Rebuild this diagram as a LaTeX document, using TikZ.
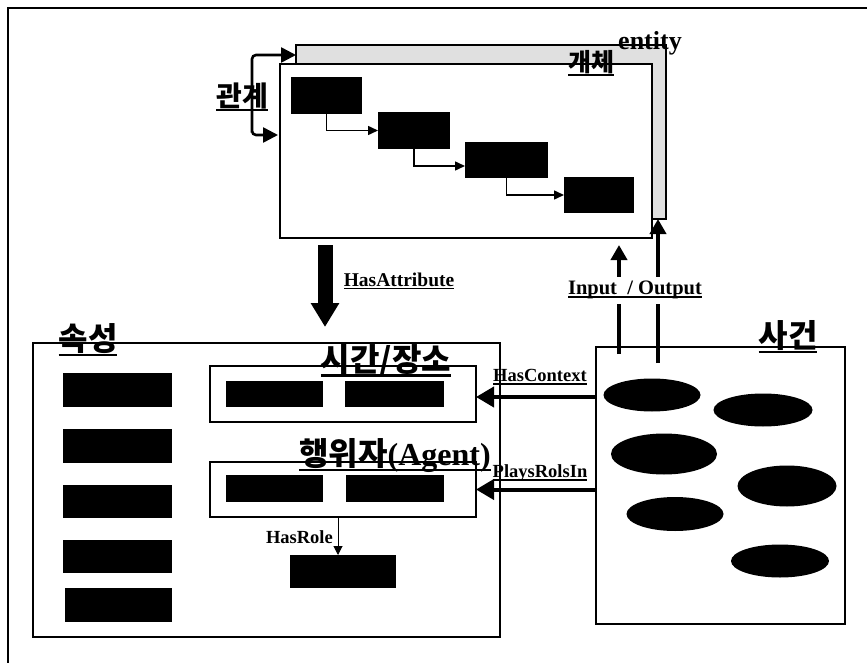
\documentclass[tikz,border=0pt]{standalone}
\usepackage{fontspec}
\setmainfont{Liberation Serif}
\newfontfamily\kr{Noto Sans CJK KR}
\usetikzlibrary{arrows.meta,shapes.geometric,calc}
\newcommand\myul[1]{\setbox0\hbox{#1}\leavevmode\rlap{\copy0}\rule[-0.17em]{\wd0}{0.08em}}
\begin{document}
\begin{tikzpicture}[x=1pt,y=-1pt,
  box/.style={draw, line width=1.6pt, inner sep=0pt, outer sep=0pt, anchor=north west},
  blk/.style={fill=black, inner sep=0pt, outer sep=0pt, anchor=north west},
  ell/.style={ellipse, fill=black, inner sep=0pt, outer sep=0pt},
  lbl/.style={inner sep=0pt, font=\bfseries\fontsize{19.5}{19.5}\selectfont},
  slbl/.style={inner sep=0pt, font=\bfseries\fontsize{18.5}{18.5}\selectfont},
  klbl/.style={inner sep=0pt, font=\kr\bfseries\fontsize{32}{32}\selectfont},
  thin/.style={line width=1.5pt, -{Triangle[length=10pt,width=9pt]}},
  rel/.style={line width=2.6pt, rounded corners=4pt, {Triangle[length=15pt,width=15pt]}-{Triangle[length=15pt,width=15pt]}},
  io/.style={line width=4pt, -{Triangle[length=15pt,width=16pt]}},
  ctx/.style={line width=4pt, -{Triangle[length=18pt,width=20pt]}},
  big/.style={line width=15pt, -{Triangle[length=24pt,width=27pt]}}
]
\useasboundingbox (0,0) rectangle (867,663);
\fill[white] (0,0) rectangle (867,663);
\draw[line width=2pt] (8,663) -- (8,8) -- (867,8);

% entity boxes
\node[box, fill=black!12, minimum width=370pt, minimum height=174pt] (back) at (296,45) {};
\node[box, fill=white, minimum width=372pt, minimum height=174pt] (front) at (280,64) {};
\node[blk, minimum width=71pt, minimum height=37pt] (b1) at (291,77) {};
\node[blk, minimum width=72pt, minimum height=37pt] (b2) at (378,112) {};
\node[blk, minimum width=83pt, minimum height=36pt] (b3) at (465,142) {};
\node[blk, minimum width=70pt, minimum height=36pt] (b4) at (564,177) {};
\draw[thin] (b1.south) |- (b2.west);
\coordinate (b3in) at ([yshift=-6pt]b3.west);
\draw[thin] (b2.south) |- (b3in);
\draw[thin] (b3.south) |- (b4.west);
\node[inner sep=0pt, anchor=base, font=\bfseries\fontsize{26}{26}\selectfont] (tent) at (650,50) {entity};
\node[klbl, font=\kr\bfseries\fontsize{25}{25}\selectfont] (tobj) at (591,63) {\myul{개체}};

% relation arrows
\coordinate (relc) at (252,135);
\draw[rel] ([yshift=-10pt]back.north west) -| (relc) |- ([yshift=-71pt,xshift=-2pt]front.north west);
\node[klbl, font=\kr\bfseries\fontsize{28}{28}\selectfont] (trel) at (242,97) {\myul{관계}};

% HasAttribute
\node[box, minimum width=467pt, minimum height=294pt] (attr) at (33,343) {};
\draw[big] ([shift={(45pt,-7pt)}]front.south west) -- ([shift={(292pt,16pt)}]attr.north west);
\node[lbl] (thas) at (399,281) {\myul{HasAttribute}};

% attribute box content
\node[klbl] (tattr) at (88,340) {\myul{속성}};
\node[blk, minimum width=109pt, minimum height=34pt] (l1) at (63,373) {};
\node[blk, minimum width=109pt, minimum height=34pt] (l2) at (63,429) {};
\node[blk, minimum width=109pt, minimum height=33pt] (l3) at (63,485) {};
\node[blk, minimum width=109pt, minimum height=33pt] (l4) at (63,540) {};
\node[blk, minimum width=107pt, minimum height=34pt] (l5) at (65,588) {};

\node[box, minimum width=266pt, minimum height=56pt] (time) at (210,366) {};
\node[klbl] (ttime) at (386,361) {\myul{시간/장소}};
\node[blk, minimum width=97pt, minimum height=26pt] (t1) at (226,381) {};
\node[blk, minimum width=99pt, minimum height=26pt] (t2) at (345,381) {};

\node[box, minimum width=266pt, minimum height=55pt] (agent) at (210,462) {};
\node[klbl] (tagent) at (395,456) {\myul{행위자\rmfamily(Agent)}};
\node[blk, minimum width=97pt, minimum height=27pt] (a1) at (226,475) {};
\node[blk, minimum width=98pt, minimum height=27pt] (a2) at (346,475) {};

\node[blk, minimum width=106pt, minimum height=33pt] (role) at (290,555) {};
\draw[line width=1pt, -{Triangle[length=9pt,width=9pt]}] ([xshift=128pt]agent.south west) -- ([xshift=48pt]role.north west);
\node[slbl, anchor=east] (trole) at (333,537) {HasRole};

% event box
\node[box, minimum width=249pt, minimum height=277pt] (ev) at (596,347) {};
\node[klbl] (tev) at (788,337) {\myul{사건}};
\node[ell, minimum width=97pt, minimum height=33pt] (e1) at (652,395) {};
\node[ell, minimum width=99pt, minimum height=33pt] (e2) at (763,410) {};
\node[ell, minimum width=106pt, minimum height=41pt] (e3) at (664,454) {};
\node[ell, minimum width=99pt, minimum height=41pt] (e4) at (787,486) {};
\node[ell, minimum width=97pt, minimum height=34pt] (e5) at (675,514) {};
\node[ell, minimum width=98pt, minimum height=33pt] (e6) at (780,561) {};

% context arrows
\coordinate (cin) at ([yshift=-3pt]time.east);
\draw[ctx] (ev.west |- cin) -- (cin);
\draw[ctx] (ev.west |- agent.east) -- (agent.east);
\node[slbl] (tctx) at (540,377) {\myul{HasContext}};
\node[slbl] (tplay) at (540,473) {\myul{PlaysRolsIn}};

% input / output
\draw[io] ([shift={(23pt,-7pt)}]ev.north west) -- ([shift={(339pt,-7pt)}]front.south west);
\draw[io] ([shift={(62pt,-16pt)}]ev.north west) -- ([xshift=-8pt]back.south east);
\node[inner sep=0pt, font=\bfseries\fontsize{20.5}{20.5}\selectfont, fill=white, minimum height=27pt, inner xsep=1pt] (tio) at (635,290) {\myul{Input\ \ / Output}};
\end{tikzpicture}
\end{document}
